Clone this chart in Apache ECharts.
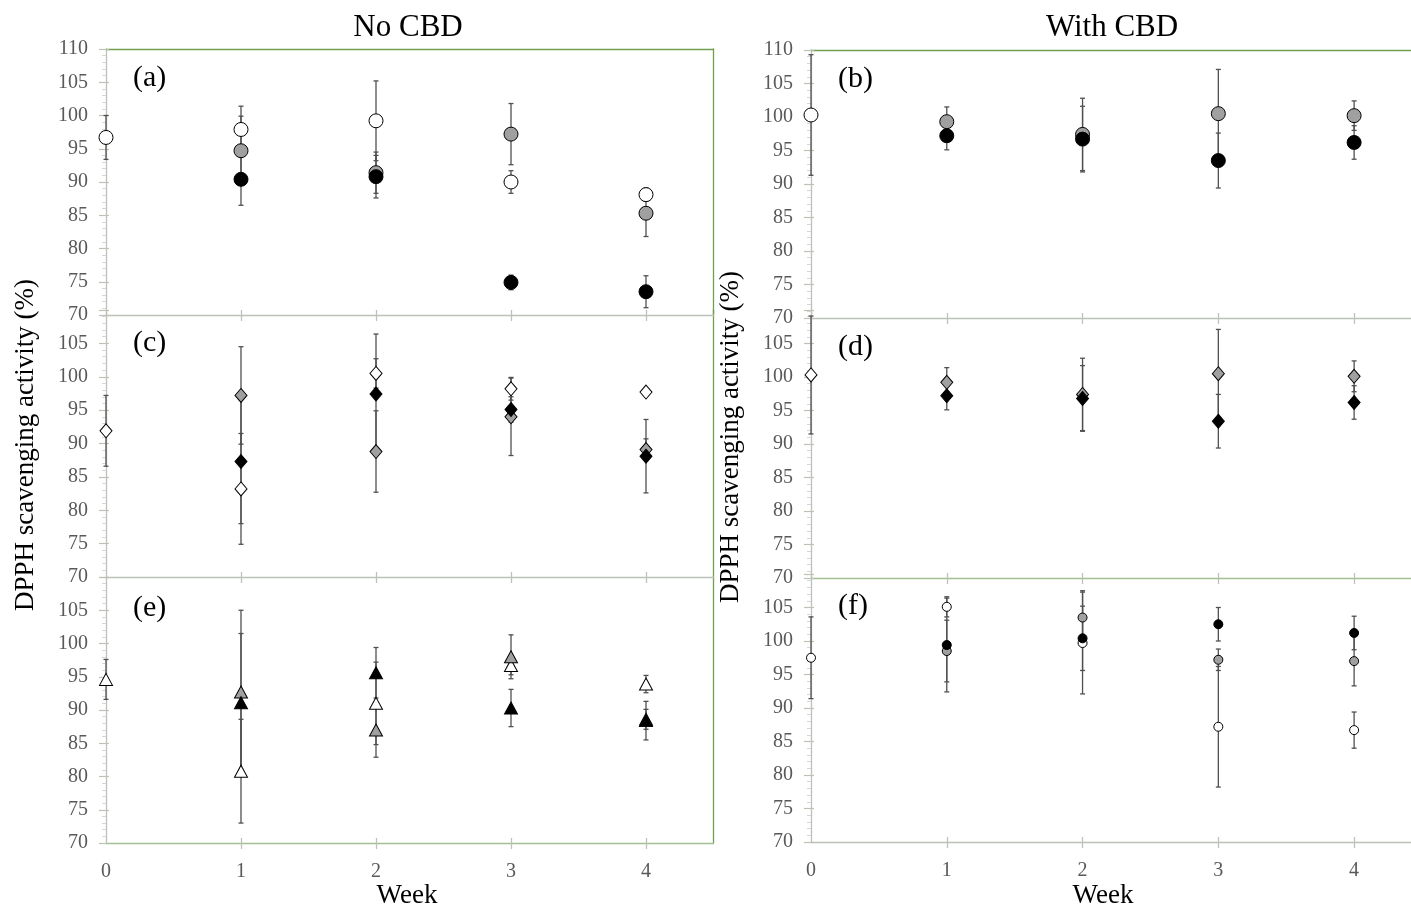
<!DOCTYPE html>
<html>
<head>
<meta charset="utf-8">
<script src="https://cdn.jsdelivr.net/npm/echarts@6/dist/echarts.min.js"></script>
<style>
html,body{margin:0;padding:0;background:#fff;}
#chart{width:1411px;height:908px;}
</style>
</head>
<body>
<div id="chart"></div>
<script>
// ---------- data ----------
const weeks = [0, 1, 2, 3, 4];
const xTickValues = [0, 1, 2, 3, 4];
const columnTitles = ['No CBD', 'With CBD'];
const panelLabels = ['(a)', '(b)', '(c)', '(d)', '(e)', '(f)'];
const yTitle = 'DPPH scavenging activity (%)';
const xTitle = 'Week';

// (a) No CBD, circles
const aWhite = [96.7, 97.9, 99.2, 90.0, 88.1];
const aWhiteErr = [3.3, 3.5, 6.0, 1.7, 1.0];
const aGray = [null, 94.7, 91.4, 97.2, 85.3];
const aGrayErr = [null, 5.2, 3.1, 4.6, 3.5];
const aBlack = [null, 90.4, 90.8, 74.9, 73.5];
const aBlackErr = [null, 3.9, 3.2, 1.1, 2.4];

// (b) With CBD, circles
const bWhite = [100.3, null, null, null, null];
const bWhiteErr = [9.0, null, null, null, null];
const bGray = [null, 99.3, 97.4, 100.5, 100.2];
const bGrayErr = [null, 2.2, 5.4, 6.6, 2.2];
const bBlack = [null, 97.2, 96.7, 93.5, 96.2];
const bBlackErr = [null, 2.1, 4.9, 4.1, 2.5];

// (c) No CBD, diamonds
const cWhite = [91.9, 83.2, 100.5, 98.2, 97.7];
const cWhiteErr = [5.3, 8.3, 2.2, 1.7, 0.4];
const cGray = [null, 97.2, 88.8, 94.0, 89.1];
const cGrayErr = [null, 7.3, 6.1, 5.8, 1.6];
const cBlack = [null, 87.3, 97.4, 95.1, 88.1];
const cBlackErr = [null, 9.3, 9.0, 1.9, 5.5];

// (d) With CBD, diamonds
const dWhite = [100.3, null, null, null, null];
const dWhiteErr = [8.8, null, null, null, null];
const dGray = [null, 99.2, 97.4, 100.5, 100.1];
const dGrayErr = [null, 2.2, 5.4, 6.6, 2.3];
const dBlack = [null, 97.2, 96.8, 93.4, 96.2];
const dBlackErr = [null, 2.1, 4.9, 4.0, 2.5];

// (e) No CBD, triangles
const eWhite = [94.6, 80.8, 91.0, 96.7, 93.9];
const eWhiteErr = [3.0, 7.8, 6.2, 1.4, 1.3];
const eGray = [null, 92.7, 87.0, 98.0, 88.6];
const eGrayErr = [null, 12.3, 4.1, 3.3, 1.5];
const eBlack = [null, 91.1, 95.6, 90.3, 88.4];
const eBlackErr = [null, 10.4, 3.8, 2.8, 2.9];

// (f) With CBD, small circles
const fWhite = [97.5, 105.1, 99.7, 87.2, 86.7];
const fWhiteErr = [6.1, 1.5, 7.6, 9.0, 2.7];
const fGray = [null, 98.5, 103.5, 97.2, 97.0];
const fGrayErr = [null, 4.6, 4.0, 1.6, 3.7];
const fBlack = [null, 99.4, 100.4, 102.5, 101.2];
const fBlackErr = [null, 7.0, 4.8, 2.5, 2.5];

// ---------- styling / layout ----------
const FONT = 'Liberation Serif';
const GREEN = '#6f9f4f';
const LIGHTGREEN = '#a3bf92';
const AXIS = '#bcc2b8';
const LABEL = '#595959';
const FILLS = ['#ffffff', '#a0a0a0', '#000000'];

const panels = [
  {grid: {left: 106, top: 49, width: 607.5, height: 266}, symbol: 'circle', size: 14,
   sets: [[aWhite, aWhiteErr], [aGray, aGrayErr], [aBlack, aBlackErr]],
   showMax: true, bottomRow: false, top: GREEN, right: GREEN, bottomColor: AXIS, label: [133, 78]},
  {grid: {left: 811, top: 50, width: 611, height: 268}, symbol: 'circle', size: 14,
   sets: [[bWhite, bWhiteErr], [bGray, bGrayErr], [bBlack, bBlackErr]],
   showMax: true, bottomRow: false, top: GREEN, right: null, bottomColor: AXIS, label: [838, 79]},
  {grid: {left: 106, top: 310, width: 607.5, height: 267}, symbol: 'diamond', size: [12, 14],
   sets: [[cWhite, cWhiteErr], [cGray, cGrayErr], [cBlack, cBlackErr]],
   showMax: false, bottomRow: false, top: null, right: GREEN, bottomColor: AXIS, label: [133, 343]},
  {grid: {left: 811, top: 310, width: 611, height: 268}, symbol: 'diamond', size: [12, 14],
   sets: [[dWhite, dWhiteErr], [dGray, dGrayErr], [dBlack, dBlackErr]],
   showMax: false, bottomRow: false, top: null, right: null, bottomColor: LIGHTGREEN, label: [838, 347]},
  {grid: {left: 106, top: 577, width: 607.5, height: 266}, symbol: 'triangle', size: [13, 12],
   sets: [[eWhite, eWhiteErr], [eGray, eGrayErr], [eBlack, eBlackErr]],
   showMax: false, bottomRow: true, top: null, right: GREEN, bottomColor: LIGHTGREEN, label: [133, 608]},
  {grid: {left: 811, top: 574, width: 611, height: 268}, symbol: 'circle', size: 9,
   sets: [[fWhite, fWhiteErr], [fGray, fGrayErr], [fBlack, fBlackErr]],
   showMax: false, bottomRow: true, top: null, right: null, bottomColor: AXIS, label: [838, 606]}
];

const grids = [], xAxes = [], yAxes = [], series = [];

panels.forEach((p, i) => {
  grids.push(Object.assign({containLabel: false, outerBoundsMode: 'none'}, p.grid));
  const xi = xAxes.length;
  xAxes.push({
    gridIndex: i, type: 'value', min: 0, max: 4.5, interval: 1, position: 'bottom',
    axisLine: {show: true, onZero: false, lineStyle: {color: p.bottomColor, width: 1.3}},
    axisTick: {show: true, customValues: [1, 2, 3, 4], length: 6, lineStyle: {color: AXIS, width: 1.3}},
    axisLabel: {show: p.bottomRow, customValues: xTickValues, margin: 19, color: LABEL,
                fontFamily: FONT, fontSize: 20},
    splitLine: {show: false}
  });
  // inner half of the crossing x ticks
  xAxes.push({
    gridIndex: i, type: 'value', min: 0, max: 4.5, interval: 1, position: 'bottom',
    axisLine: {show: false},
    axisTick: {show: true, inside: true, customValues: [1, 2, 3, 4], length: 5, lineStyle: {color: AXIS, width: 1.3}},
    axisLabel: {show: false}, splitLine: {show: false}
  });
  if (p.top) {
    xAxes.push({
      gridIndex: i, type: 'value', min: 0, max: 4.5, position: 'top',
      axisLine: {show: true, onZero: false, lineStyle: {color: p.top, width: 1.3}},
      axisTick: {show: false}, axisLabel: {show: false}, splitLine: {show: false}
    });
  }
  const yi = yAxes.length;
  yAxes.push({
    gridIndex: i, type: 'value', min: 70, max: 110, interval: 5, position: 'left',
    axisLine: {show: true, onZero: false, lineStyle: {color: AXIS, width: 1.3}},
    axisTick: {show: true, length: 7, lineStyle: {color: AXIS, width: 1.2}},
    minorTick: {show: true, splitNumber: 5, length: 4, lineStyle: {color: '#d6d6d6', width: 1}},
    axisLabel: {margin: 18, color: LABEL, fontFamily: FONT, fontSize: 20,
                showMaxLabel: p.showMax, showMinLabel: true},
    splitLine: {show: false}, minorSplitLine: {show: false}
  });
  yAxes.push({
    gridIndex: i, type: 'value', min: 70, max: 110, interval: 5, position: 'left',
    axisLine: {show: false},
    axisTick: {show: true, inside: true, length: 3, lineStyle: {color: AXIS, width: 1.2}},
    axisLabel: {show: false}, splitLine: {show: false}
  });
  if (p.right) {
    yAxes.push({
      gridIndex: i, type: 'value', min: 70, max: 110, position: 'right',
      axisLine: {show: true, onZero: false, lineStyle: {color: p.right, width: 1.3}},
      axisTick: {show: false}, axisLabel: {show: false}, splitLine: {show: false}
    });
  }

  p.sets.forEach((set, k) => {
    const vals = set[0], errs = set[1];
    const pts = [], bars = [];
    weeks.forEach((w, j) => {
      if (vals[j] != null) {
        pts.push([w, vals[j]]);
        if (errs[j] != null) bars.push([w, vals[j], errs[j]]);
      }
    });
    series.push({
      type: 'custom', xAxisIndex: xi, yAxisIndex: yi, z: 3 + k * 0.01, silent: true,
      data: bars,
      encode: {x: 0, y: 1},
      renderItem: function (params, api) {
        const x = api.value(0), y = api.value(1), e = api.value(2);
        const t = api.coord([x, y + e]);
        const b = api.coord([x, y - e]);
        const c = 2.5;
        const st = {stroke: '#505050', lineWidth: 1.3};
        return {type: 'group', children: [
          {type: 'line', shape: {x1: t[0], y1: t[1], x2: b[0], y2: b[1]}, style: st},
          {type: 'line', shape: {x1: t[0] - c, y1: t[1], x2: t[0] + c, y2: t[1]}, style: st},
          {type: 'line', shape: {x1: b[0] - c, y1: b[1], x2: b[0] + c, y2: b[1]}, style: st}
        ]};
      }
    });
    series.push({
      type: 'scatter', xAxisIndex: xi, yAxisIndex: yi, z: 5 + k * 0.01, silent: true,
      symbol: p.symbol, symbolSize: p.size,
      itemStyle: {color: FILLS[k], borderColor: '#000', borderWidth: 1, opacity: 1},
      data: pts
    });
  });
});

const graphics = [
  {type: 'text', x: 408, y: 28, style: {text: columnTitles[0], font: '31px "Liberation Serif"', fill: '#000', align: 'center', verticalAlign: 'middle'}},
  {type: 'text', x: 1112, y: 28, style: {text: columnTitles[1], font: '31px "Liberation Serif"', fill: '#000', align: 'center', verticalAlign: 'middle'}},
  {type: 'text', x: 26, y: 445, rotation: Math.PI / 2, style: {text: yTitle, font: '27px "Liberation Serif"', fill: '#000', align: 'center', verticalAlign: 'middle'}},
  {type: 'text', x: 731, y: 437, rotation: Math.PI / 2, style: {text: yTitle, font: '27px "Liberation Serif"', fill: '#000', align: 'center', verticalAlign: 'middle'}},
  {type: 'text', x: 407, y: 896, style: {text: xTitle, font: '27px "Liberation Serif"', fill: '#000', align: 'center', verticalAlign: 'middle'}},
  {type: 'text', x: 1103, y: 896, style: {text: xTitle, font: '27px "Liberation Serif"', fill: '#000', align: 'center', verticalAlign: 'middle'}}
];
panels.forEach((p, i) => {
  graphics.push({type: 'text', x: p.label[0], y: p.label[1],
    style: {text: panelLabels[i], font: '30px "Liberation Serif"', fill: '#000', align: 'left', verticalAlign: 'middle'}});
});

const chart = echarts.init(document.getElementById('chart'), null, {renderer: 'canvas'});
chart.setOption({
  animation: false,
  backgroundColor: '#ffffff',
  grid: grids,
  xAxis: xAxes,
  yAxis: yAxes,
  series: series,
  graphic: graphics
});
</script>
</body>
</html>
